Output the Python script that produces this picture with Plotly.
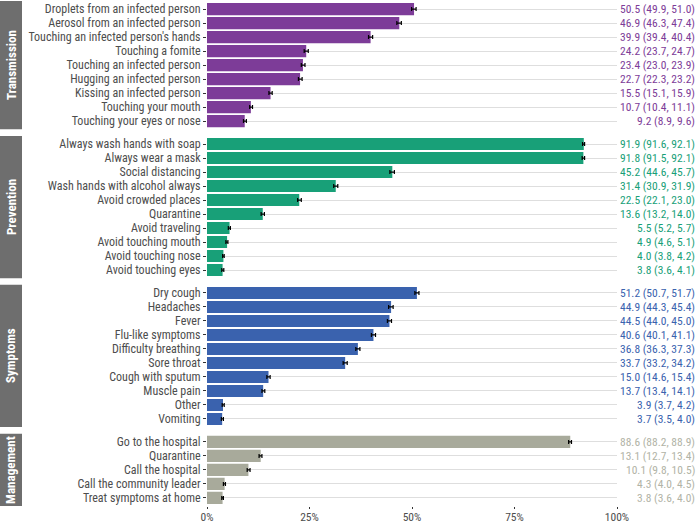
import plotly.graph_objects as go

# --- data (percent, lower CI, upper CI), top to bottom within each panel ---
transmission_labels = [
    "Droplets from an infected person", "Aerosol from an infected person",
    "Touching an infected person's hands", "Touching a fomite",
    "Touching an infected person", "Hugging an infected person",
    "Kissing an infected person", "Touching your mouth", "Touching your eyes or nose",
]
transmission_pct = [50.5, 46.9, 39.9, 24.2, 23.4, 22.7, 15.5, 10.7, 9.2]
transmission_lo = [49.9, 46.3, 39.4, 23.7, 23.0, 22.3, 15.1, 10.4, 8.9]
transmission_hi = [51.0, 47.4, 40.4, 24.7, 23.9, 23.2, 15.9, 11.1, 9.6]

prevention_labels = [
    "Always wash hands with soap", "Always wear a mask", "Social distancing",
    "Wash hands with alcohol always", "Avoid crowded places", "Quarantine",
    "Avoid traveling", "Avoid touching mouth", "Avoid touching nose", "Avoid touching eyes",
]
prevention_pct = [91.9, 91.8, 45.2, 31.4, 22.5, 13.6, 5.5, 4.9, 4.0, 3.8]
prevention_lo = [91.6, 91.5, 44.6, 30.9, 22.1, 13.2, 5.2, 4.6, 3.8, 3.6]
prevention_hi = [92.1, 92.1, 45.7, 31.9, 23.0, 14.0, 5.7, 5.1, 4.2, 4.1]

symptoms_labels = [
    "Dry cough", "Headaches", "Fever", "Flu-like symptoms", "Difficulty breathing",
    "Sore throat", "Cough with sputum", "Muscle pain", "Other", "Vomiting",
]
symptoms_pct = [51.2, 44.9, 44.5, 40.6, 36.8, 33.7, 15.0, 13.7, 3.9, 3.7]
symptoms_lo = [50.7, 44.3, 44.0, 40.1, 36.3, 33.2, 14.6, 13.4, 3.7, 3.5]
symptoms_hi = [51.7, 45.4, 45.0, 41.1, 37.3, 34.2, 15.4, 14.1, 4.2, 4.0]

management_labels = [
    "Go to the hospital", "Quarantine", "Call the hospital",
    "Call the community leader", "Treat symptoms at home",
]
management_pct = [88.6, 13.1, 10.1, 4.3, 3.8]
management_lo = [88.2, 12.7, 9.8, 4.0, 3.6]
management_hi = [88.9, 13.4, 10.5, 4.5, 4.0]

x_ticks = [0, 25, 50, 75, 100]
x_ticktext = ["0%", "25%", "50%", "75%", "100%"]

panels = [
    ("Transmission", transmission_labels, transmission_pct, transmission_lo, transmission_hi,
     "#7d3c98", "#7d3c98"),
    ("Prevention", prevention_labels, prevention_pct, prevention_lo, prevention_hi,
     "#18a078", "#18a078"),
    ("Symptoms", symptoms_labels, symptoms_pct, symptoms_lo, symptoms_hi,
     "#3a62ae", "#3a62ae"),
    ("Management", management_labels, management_pct, management_lo, management_hi,
     "#a8aa9b", "#b1b3a6"),
]

W, H = 700, 523
LEFT, RIGHT, TOP, BOTTOM = 207, 83, 1, 17
ROW_PX, PAD = 14.0, 0.08
FONT = "Roboto Condensed, Liberation Sans Narrow, Roboto, sans-serif"

plot_w = W - LEFT - RIGHT
plot_h = H - TOP - BOTTOM
panel_px = [(len(p[1]) + 2 * PAD) * ROW_PX for p in panels]
GAP = (plot_h - sum(panel_px)) / (len(panels) - 1)


def px_x(px):
    """Figure pixel (from left) -> x paper coordinate."""
    return (px - LEFT) / plot_w


fig = go.Figure()

y_top = plot_h  # pixels from the bottom of the plot area
for i, (name, labels, pct, lo, hi, color, text_color) in enumerate(panels):
    n = len(labels)
    y0 = max(0.0, y_top - panel_px[i])
    suffix = "" if i == 0 else str(i + 1)
    yref, xref = "y" + suffix, "x" + suffix
    last = i == len(panels) - 1

    fig.add_trace(go.Bar(
        x=pct, y=labels, orientation="h",
        marker=dict(color=color, line=dict(width=0)),
        width=0.86,
        error_x=dict(type="data", symmetric=False,
                     array=[h - v for h, v in zip(hi, pct)],
                     arrayminus=[v - l for v, l in zip(pct, lo)],
                     color="black", thickness=1.2, width=2),
        xaxis=xref, yaxis=yref, showlegend=False,
        hovertemplate="%{y}: %{x:.1f}%<extra></extra>",
    ))
    fig.layout["xaxis" + suffix] = dict(
        domain=[0, 1], range=[0, 100], anchor=yref,
        tickmode="array", tickvals=x_ticks, ticktext=x_ticktext,
        showticklabels=last, ticks="outside" if last else "", ticklen=2,
        ticklabelstandoff=-2,
        tickcolor="#333333", showgrid=False, zeroline=False, showline=False,
        tickfont=dict(size=11.5, color="#4d4d4d", family=FONT),
        fixedrange=True,
    )
    fig.layout["yaxis" + suffix] = dict(
        domain=[y0 / plot_h, min(1.0, y_top / plot_h)],
        anchor=xref, type="category", categoryarray=labels,
        tickmode="array", tickvals=labels, ticktext=labels,
        range=[n - 0.5 + PAD, -0.5 - PAD],
        ticks="outside", ticklen=3, tickcolor="#333333",
        tickfont=dict(size=12, color="#4d4d4d", family=FONT),
        showgrid=True, gridcolor="#dedede", gridwidth=1,
        zeroline=False, showline=False, fixedrange=True,
    )
    # strip label on the left
    fig.add_shape(type="rect", xref="paper", yref="paper",
                  x0=px_x(0), x1=px_x(22),
                  y0=y0 / plot_h, y1=y_top / plot_h,
                  fillcolor="#6e6e6e", line=dict(width=0), layer="below")
    fig.add_annotation(xref="paper", yref="paper",
                       x=px_x(11), y=(y0 + y_top) / 2 / plot_h,
                       xanchor="center", yanchor="middle",
                       text="<b>" + name + "</b>", textangle=-90, showarrow=False,
                       font=dict(size=13, color="white", family=FONT))
    # estimate (CI) labels on the right
    for lab, v, l, h in zip(labels, pct, lo, hi):
        fig.add_annotation(xref="paper", yref=yref, x=px_x(697), y=lab,
                           xanchor="right", yanchor="middle", showarrow=False,
                           text=f"{v:.1f} ({l:.1f}, {h:.1f})",
                           font=dict(size=11.5, color=text_color, family=FONT))
    y_top = y0 - GAP

fig.update_layout(
    width=W, height=H,
    margin=dict(l=LEFT, r=RIGHT, t=TOP, b=BOTTOM, autoexpand=False),
    plot_bgcolor="white", paper_bgcolor="white",
    font=dict(family=FONT, color="#4d4d4d"),
)

fig.write_html("out.html", config={"displayModeBar": False},
               post_script="document.body.style.margin = '0';")
